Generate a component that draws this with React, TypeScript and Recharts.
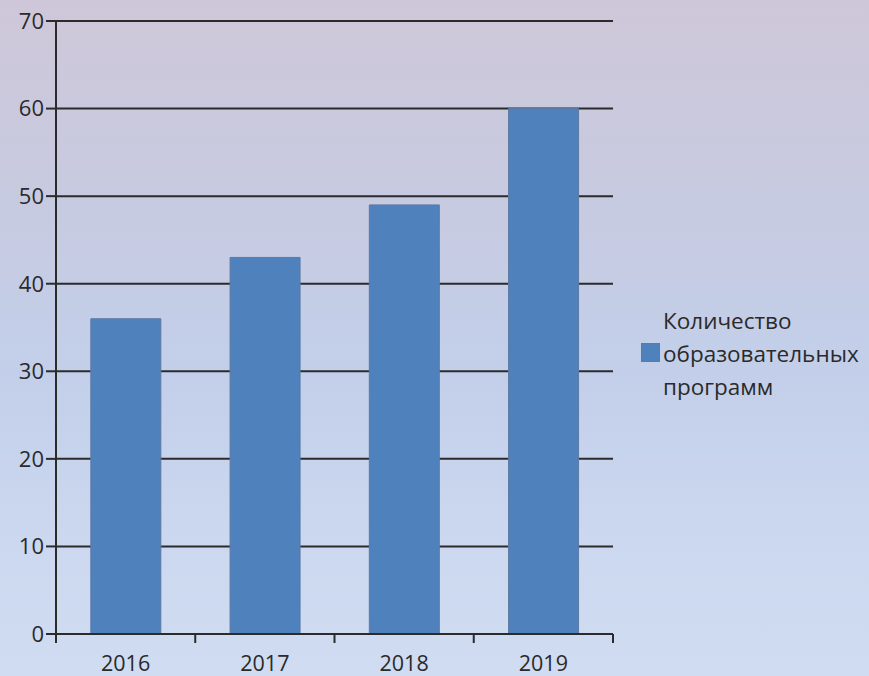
import { BarChart, Bar, XAxis, YAxis, CartesianGrid } from 'recharts'

const years = ['2016', '2017', '2018', '2019']
const programs = [36, 43, 49, 60]
const yTicks = [0, 10, 20, 30, 40, 50, 60, 70]
const legendLines = ['Количество', 'образовательных', 'программ']

const W = 869
const H = 676
const LEFT = 56
const RIGHT = 256
const TOP = 21
const X_AXIS_H = 42
const PLOT_BOTTOM = H - X_AXIS_H
const BAND = (W - LEFT - RIGHT) / years.length

const axisColor = '#2b2b2b'
const barColor = '#4f81bd'
const font = '"Open Sans", sans-serif'

const data = years.map((year, i) => ({ year, value: programs[i] }))

function YearTick(props: any) {
  const { x, payload, index } = props
  const left = x - BAND / 2
  return (
    <g>
      <line x1={left} y1={PLOT_BOTTOM} x2={left} y2={PLOT_BOTTOM + 9} stroke={axisColor} strokeWidth={2} />
      {index === years.length - 1 && (
        <line x1={x + BAND / 2} y1={PLOT_BOTTOM} x2={x + BAND / 2} y2={PLOT_BOTTOM + 9} stroke={axisColor} strokeWidth={2} />
      )}
      <text x={x} y={PLOT_BOTTOM + 37} textAnchor="middle" fill="#2a2a2a" fontFamily={font} fontSize={21.5}>
        {payload.value}
      </text>
    </g>
  )
}

export default function App() {
  return (
    <div
      style={{
        position: 'fixed',
        left: 0,
        top: 0,
        width: W,
        height: H,
        background: 'linear-gradient(to bottom, #cfc7d9 0%, #c7cae0 28%, #c3cfea 55%, #cbd8ef 80%, #d0dcf1 100%)',
      }}
    >
      <BarChart width={W} height={H} data={data} margin={{ top: TOP, right: RIGHT, left: 0, bottom: 0 }} barCategoryGap="25%">
        <CartesianGrid vertical={false} stroke={axisColor} strokeWidth={2} />
        <XAxis
          dataKey="year"
          height={X_AXIS_H}
          axisLine={{ stroke: axisColor, strokeWidth: 2 }}
          tickLine={false}
          tick={<YearTick />}
          interval={0}
        />
        <YAxis
          width={LEFT}
          domain={[0, 70]}
          ticks={yTicks}
          interval={0}
          axisLine={{ stroke: axisColor, strokeWidth: 2 }}
          tickLine={{ stroke: axisColor, strokeWidth: 2 }}
          tickSize={10}
          tick={{ fill: '#2a2a2a', fontFamily: font, fontSize: 22 }}
        />
        <Bar dataKey="value" name={legendLines.join(' ')} fill={barColor} stroke="#5d7aa3" strokeWidth={1} isAnimationActive={false} />
      </BarChart>
      <div
        style={{
          position: 'absolute',
          left: 641,
          top: 304,
          fontFamily: font,
          fontSize: 22.5,
          color: '#2a2a2a',
          lineHeight: '33px',
          whiteSpace: 'nowrap',
        }}
      >
        <div style={{ position: 'absolute', left: 0, top: 39, width: 17, height: 17, background: barColor, border: '1px solid #5b7aa6' }} />
        <div style={{ paddingLeft: 22 }}>
          {legendLines.map((w) => (
            <div key={w}>{w}</div>
          ))}
        </div>
      </div>
    </div>
  )
}
